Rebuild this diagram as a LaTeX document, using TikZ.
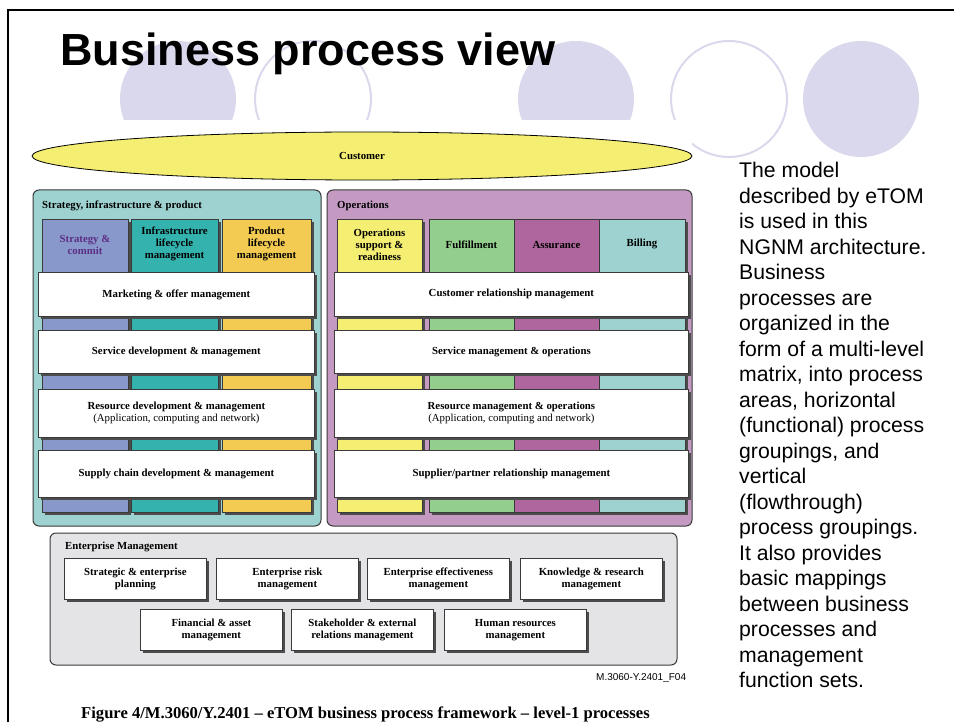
\documentclass[tikz,border=0pt]{standalone}
\usepackage{fontspec}
\setmainfont{Liberation Serif}
\newfontfamily\slidefont{Liberation Sans}
\usetikzlibrary{shapes.geometric,shadows}

\definecolor{circlav}{HTML}{DAD8EC}
\definecolor{custyel}{HTML}{F4EE73}
\definecolor{sipteal}{HTML}{9ED2D1}
\definecolor{opspurp}{HTML}{C49AC3}
\definecolor{stratblue}{HTML}{8898CA}
\definecolor{infrateal}{HTML}{33B2AE}
\definecolor{prodgold}{HTML}{F3CB52}
\definecolor{fulgreen}{HTML}{93CE8C}
\definecolor{assmag}{HTML}{AF659D}
\definecolor{entgray}{HTML}{E4E4E6}
\definecolor{stratink}{HTML}{5C2D85}
\definecolor{edgegray}{HTML}{3A3A3A}

\begin{document}
\begin{tikzpicture}[x=1pt,y=-1pt,
  figfont/.style={font=\bfseries\fontsize{10.8}{12}\selectfont},
  panel/.style={draw=edgegray,line width=1pt,rounded corners=6pt},
  boxshadow/.style={drop shadow={shadow xshift=2.5pt,shadow yshift=-2.5pt,fill=black!70,opacity=1}},
  colbox/.style={draw=edgegray,line width=0.8pt,anchor=north west,inner sep=0pt,minimum height=293,boxshadow},
  bar/.style={draw=edgegray,fill=white,line width=0.8pt,anchor=north west,inner sep=0pt,align=center,figfont,boxshadow},
  ebox/.style={bar,minimum width=142,minimum height=41},
  hdr/.style={align=center,inner sep=0pt,figfont},
  ptitle/.style={anchor=base west,inner sep=0pt,figfont}]

\useasboundingbox (0,0) rectangle (954,722);

% background circles of the slide
\fill[circlav] (178,99) circle [radius=58];
\draw[circlav,line width=2pt] (313,99) circle [radius=58];
\fill[circlav] (576,99) circle [radius=58];
\draw[circlav,line width=2pt] (729,99) circle [radius=58];
\fill[circlav] (861,99) circle [radius=58];

% white figure area
\fill[white] (10,120) rectangle (692,722);

\node[anchor=base west,inner sep=0pt,font=\slidefont\bfseries\fontsize{45}{50}\selectfont] (title) at (60,66) {Business process view};

% customer
\node[ellipse,draw=black,fill=custyel,line width=0.8pt,minimum width=660,minimum height=48,inner sep=0pt,figfont] (cust) at (362,156) {Customer};

% strategy, infrastructure & product
\draw[panel,fill=sipteal] (33,190) rectangle (321,526);
\node[ptitle] (siptitle) at (42,209) {Strategy, infrastructure \& product};
\node[colbox,fill=stratblue,minimum width=86] (stratcol) at (42,219) {};
\node[colbox,fill=infrateal,minimum width=87] (infracol) at (131,219) {};
\node[colbox,fill=prodgold,minimum width=89] (prodcol) at (222,219) {};
\node[hdr,text=stratink] (strathdr) at (85,245) {Strategy \&\\commit};
\node[hdr] (infrahdr) at (174.5,244) {Infrastructure\\lifecycle\\management};
\node[hdr] (prodhdr) at (266.5,244) {Product\\lifecycle\\management};

\node[bar,minimum width=276,minimum height=44] (mkt) at (38,272) {Marketing \& offer management};
\node[bar,minimum width=276,minimum height=43] (svcdev) at (38,330) {Service development \& management};
\node[bar,minimum width=276,minimum height=48] (resdev) at (38,389) {Resource development \& management\\{\mdseries (Application, computing and network)}};
\node[bar,minimum width=276,minimum height=47] (supply) at (38,450) {Supply chain development \& management};

% operations
\draw[panel,fill=opspurp] (327,190) rectangle (692,526);
\node[ptitle] (opstitle) at (337,209) {Operations};
\node[colbox,fill=custyel,minimum width=85] (osrcol) at (337,219) {};
\node[colbox,fill=fulgreen,minimum width=85] (fulcol) at (429,219) {};
\node[colbox,fill=assmag,minimum width=85] (asscol) at (514,219) {};
\node[colbox,fill=sipteal,minimum width=86] (billcol) at (599,219) {};
\node[hdr] (osrhdr) at (379.5,245) {Operations\\support \&\\readiness};
\node[hdr] (fulhdr) at (471.5,245) {Fulfillment};
\node[hdr] (asshdr) at (556.5,245) {Assurance};
\node[hdr] (billhdr) at (642,244) {Billing};

\node[bar,minimum width=354,minimum height=44] (crm) at (334,272) {Customer relationship management};
\node[bar,minimum width=354,minimum height=43] (svcops) at (334,330) {Service management \& operations};
\node[bar,minimum width=354,minimum height=48] (resops) at (334,389) {Resource management \& operations\\{\mdseries (Application, computing and network)}};
\node[bar,minimum width=354,minimum height=47] (sprm) at (334,450) {Supplier/partner relationship management};

% enterprise management
\draw[panel,fill=entgray] (50,533) rectangle (677,665);
\node[ptitle] (enttitle) at (65,549) {Enterprise Management};
\node[ebox] (sep) at (64,558) {Strategic \& enterprise\\planning};
\node[ebox] (erm) at (216,558) {Enterprise risk\\management};
\node[ebox] (eem) at (367,558) {Enterprise effectiveness\\management};
\node[ebox] (krm) at (520,558) {Knowledge \& research\\management};
\node[ebox] (fam) at (140,609) {Financial \& asset\\management};
\node[ebox] (serm) at (291,609) {Stakeholder \& external\\relations management};
\node[ebox] (hrm) at (444,609) {Human resources\\management};

\begin{scope}
\clip (590,660) rectangle (692,690);
\node[anchor=base west,inner sep=0pt,font=\slidefont\fontsize{10}{12}\selectfont] (figid) at (596,680) {M.3060-Y.2401\_F04};
\end{scope}

\node[anchor=base west,inner sep=0pt,font=\bfseries\fontsize{16.6}{18}\selectfont] (caption) at (81,718) {Figure 4/M.3060/Y.2401 -- eTOM business process framework -- level-1 processes};

% slide text
\node[anchor=north west,align=left,inner sep=0pt,font=\slidefont\fontsize{21.2}{25.5}\selectfont] (body) at (739,162) {The model\\described by eTOM\\is used in this\\NGNM architecture.\\Business\\processes are\\organized in the\\form of a multi-level\\matrix, into process\\areas, horizontal\\(functional) process\\groupings, and\\vertical\\(flowthrough)\\process groupings.\\It also provides\\basic mappings\\between business\\processes and\\management\\function sets.};

% slide frame
\draw[line width=2pt] (954,10) -- (8,10) -- (8,722);
\end{tikzpicture}
\end{document}
